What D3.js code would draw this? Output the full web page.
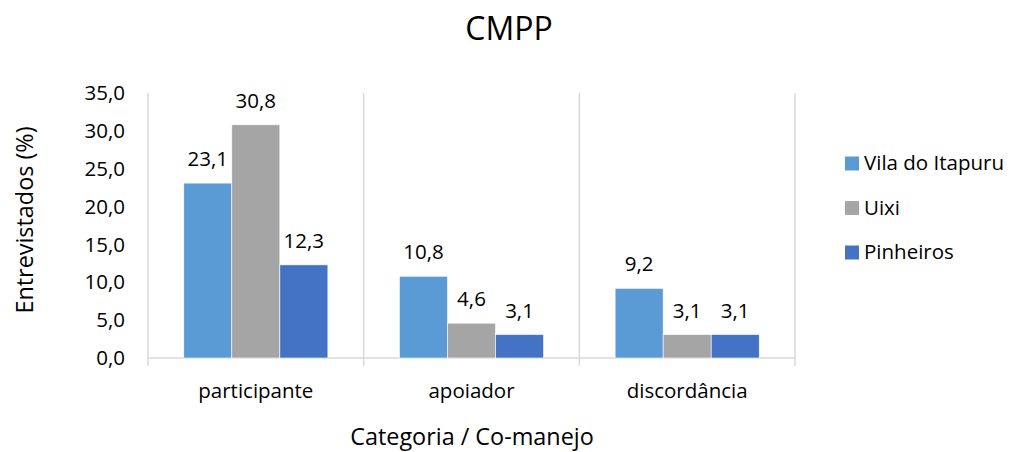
<!DOCTYPE html>
<html>
<head>
<meta charset="utf-8">
<script src="https://cdn.jsdelivr.net/npm/d3@7"></script>
<style>
  html, body { margin: 0; padding: 0; background: #fff; }
  svg { display: block; font-family: "Open Sans", "Noto Sans", sans-serif; }
</style>
</head>
<body>
<svg id="chart" width="1010" height="452"></svg>
<script>
// Categories and series values (% of interviewees)
const categories = ["participante", "apoiador", "discordância"];
const seriesNames = ["Vila do Itapuru", "Uixi", "Pinheiros"];
const vilaDoItapuru = [23.1, 10.8, 9.2];
const uixi = [30.8, 4.6, 3.1];
const pinheiros = [12.3, 3.1, 3.1];
const yTicks = [0, 5, 10, 15, 20, 25, 30, 35];
const colors = ["#5B9BD5", "#A5A5A5", "#4472C4"];

const series = [vilaDoItapuru, uixi, pinheiros];
const fmt = v => d3.format(".1f")(v).replace(".", ",");

const svg = d3.select("#chart");
const margin = { left: 148, right: 215, top: 93, bottom: 94 };
const W = 1010, H = 452;
const x0 = margin.left, x1 = W - margin.right;
const yBase = H - margin.bottom;
const labelSize = 20.5;

const x = d3.scaleBand().domain(categories).range([x0, x1]).paddingInner(0).paddingOuter(0);
const xs = d3.scaleBand().domain(seriesNames).range([0, x.bandwidth()]).paddingInner(0).paddingOuter(0.745);
const y = d3.scaleLinear().domain([0, 35]).range([yBase, margin.top]);

const axisColor = "#D9D9D9";

// Vertical category separators
const bounds = categories.map(c => x(c)).concat([x1]);
svg.append("g").selectAll("line").data(bounds).join("line")
  .attr("x1", d => d).attr("x2", d => d)
  .attr("y1", margin.top).attr("y2", yBase + 8)
  .attr("stroke", axisColor).attr("stroke-width", 1.5);

// Baseline
svg.append("line")
  .attr("x1", x0).attr("x2", x1)
  .attr("y1", yBase).attr("y2", yBase)
  .attr("stroke", axisColor).attr("stroke-width", 1.5);

// Y tick labels
svg.append("g").selectAll("text").data(yTicks).join("text")
  .attr("x", 125).attr("y", d => y(d))
  .attr("dy", "0.35em")
  .attr("text-anchor", "end")
  .attr("font-size", labelSize).attr("fill", "#000")
  .text(d => fmt(d));

// Bars
const groups = svg.append("g").selectAll("g").data(categories).join("g")
  .attr("transform", c => `translate(${x(c)},0)`);

seriesNames.forEach((s, si) => {
  groups.append("rect")
    .attr("x", xs(s))
    .attr("width", xs.bandwidth())
    .attr("y", (c, ci) => y(series[si][ci]))
    .attr("height", (c, ci) => yBase - y(series[si][ci]))
    .attr("fill", colors[si])
    .attr("stroke", "#fff").attr("stroke-width", 0.6);
  groups.append("text")
    .attr("x", xs(s) + xs.bandwidth() / 2)
    .attr("y", (c, ci) => y(series[si][ci]) - 17)
    .attr("text-anchor", "middle")
    .attr("font-size", labelSize).attr("fill", "#000")
    .text((c, ci) => fmt(series[si][ci]));
});

// Category labels
svg.append("g").selectAll("text").data(categories).join("text")
  .attr("x", c => x(c) + x.bandwidth() / 2)
  .attr("y", 398)
  .attr("text-anchor", "middle")
  .attr("font-size", labelSize).attr("fill", "#000")
  .text(c => c);

// Title
svg.append("text")
  .attr("x", 509).attr("y", 40)
  .attr("text-anchor", "middle")
  .attr("font-size", 32).attr("fill", "#000")
  .text("CMPP");

// Axis titles
svg.append("text")
  .attr("x", 472).attr("y", 445)
  .attr("text-anchor", "middle")
  .attr("font-size", 23.4).attr("fill", "#000")
  .text("Categoria / Co-manejo");

svg.append("text")
  .attr("transform", "translate(33,220) rotate(-90)")
  .attr("text-anchor", "middle")
  .attr("font-size", 23.4).attr("fill", "#000")
  .text("Entrevistados (%)");

// Legend
const legend = svg.append("g").selectAll("g").data(seriesNames).join("g")
  .attr("transform", (d, i) => `translate(845,${170 + i * 44.5})`);
legend.append("rect")
  .attr("x", 0).attr("y", -13.5).attr("width", 14).attr("height", 14)
  .attr("fill", (d, i) => colors[i]);
legend.append("text")
  .attr("x", 19).attr("y", 0)
  .attr("font-size", labelSize).attr("fill", "#000")
  .text(d => d);
</script>
</body>
</html>
